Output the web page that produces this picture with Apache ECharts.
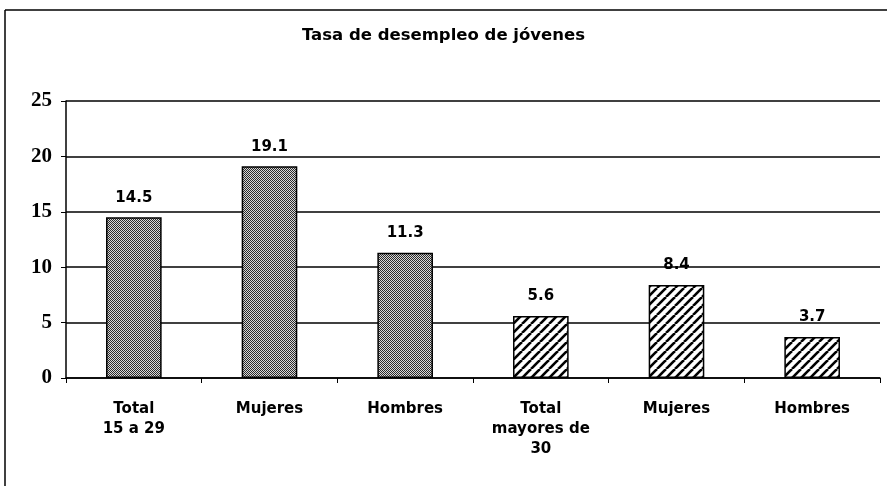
<!DOCTYPE html>
<html><head><meta charset="utf-8">
<script src="https://cdn.jsdelivr.net/npm/echarts@6/dist/echarts.min.js"></script>
<style>html,body{margin:0;padding:0;background:#fff}#c{width:887px;height:486px}</style>
</head><body><div id="c"></div>
<script>
const titleText = 'Tasa de desempleo de jóvenes';
const categories = ['Total\n15 a 29', 'Mujeres', 'Hombres', 'Total\nmayores de\n30', 'Mujeres', 'Hombres'];
const values = [14.5, 19.1, 11.3, 5.6, 8.4, 3.7];
const patternKind = ['dots', 'dots', 'dots', 'hatch', 'hatch', 'hatch'];
const yTicks = [0, 5, 10, 15, 20, 25];

function dotPattern() {
  const c = document.createElement('canvas'); c.width = 4; c.height = 4;
  const g = c.getContext('2d');
  g.fillStyle = '#d8d8d8'; g.fillRect(0, 0, 4, 4);
  g.fillStyle = '#2a2a2a';
  g.fillRect(0, 0, 1, 1); g.fillRect(2, 0, 1, 1); g.fillRect(1, 1, 1, 1); g.fillRect(3, 1, 1, 1);
  g.fillRect(0, 2, 1, 1); g.fillRect(2, 2, 1, 1); g.fillRect(1, 3, 1, 1); g.fillRect(3, 3, 1, 1);
  return c;
}
function hatchPattern() {
  const s = 9;
  const c = document.createElement('canvas'); c.width = s; c.height = s;
  const g = c.getContext('2d');
  g.fillStyle = '#fff'; g.fillRect(0, 0, s, s);
  g.strokeStyle = '#000'; g.lineWidth = 2.6;
  for (let k = -1; k <= 1; k++) {
    g.beginPath(); g.moveTo(k * s, s); g.lineTo(k * s + s, 0); g.stroke();
  }
  return c;
}
const pats = { dots: dotPattern(), hatch: hatchPattern() };

const chart = echarts.init(document.getElementById('c'));
chart.setOption({
  animation: false,
  backgroundColor: '#fff',
  title: { text: titleText, left: 'center', top: 22, textStyle: { fontFamily: 'DejaVu Sans', fontWeight: 'bold', fontSize: 16.5, color: '#000' } },
  grid: { left: 66, right: 7, top: 101, bottom: 108 },
  xAxis: {
    type: 'category', data: categories,
    axisLine: { lineStyle: { color: '#000', width: 1.5 } },
    axisTick: { show: true, length: 5, lineStyle: { color: '#000' } },
    axisLabel: { interval: 0, margin: 21, fontFamily: 'DejaVu Sans', fontWeight: 'bold', fontSize: 15, lineHeight: 20, color: '#000' }
  },
  yAxis: {
    type: 'value', min: 0, max: 25, interval: 5,
    axisLine: { show: true, lineStyle: { color: '#000', width: 1.5 } },
    axisTick: { show: true, length: 5, lineStyle: { color: '#000' } },
    splitLine: { lineStyle: { color: '#000', width: 1.5 } },
    axisLabel: { margin: 14, fontFamily: 'Liberation Serif', fontWeight: 'bold', fontSize: 21, color: '#000',
      formatter: v => yTicks.includes(v) ? String(v) : '' }
  },
  series: [{
    type: 'bar', barWidth: '41%',
    data: values.map((v, i) => ({ value: v, itemStyle: { color: { image: pats[patternKind[i]], repeat: 'repeat' }, borderColor: '#000', borderWidth: 1.5 } })),
    label: { show: true, position: 'top', distance: 12, fontFamily: 'DejaVu Sans', fontWeight: 'bold', fontSize: 15, color: '#000', formatter: p => p.value.toFixed(1) }
  }],
  graphic: [
    { type: 'line', shape: { x1: 5, y1: 10, x2: 887, y2: 10 }, style: { stroke: '#000', lineWidth: 1.5 } },
    { type: 'line', shape: { x1: 5, y1: 10, x2: 5, y2: 486 }, style: { stroke: '#000', lineWidth: 1.5 } }
  ]
});
</script></body></html>
